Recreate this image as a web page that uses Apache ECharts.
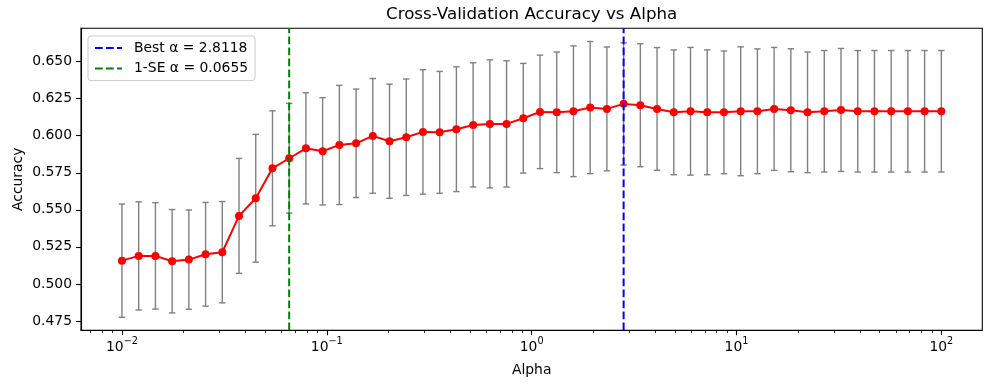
<!DOCTYPE html>
<html>
<head>
<meta charset="utf-8">
<script src="https://cdn.jsdelivr.net/npm/echarts@6/dist/echarts.min.js"></script>
<style>
  html, body { margin: 0; padding: 0; background: #ffffff; }
  #chart { width: 998px; height: 385px; }
</style>
</head>
<body>
<div id="chart"></div>
<script>
// ---- data ----
const alphas = [
  0.01, 0.012068, 0.014563, 0.017575, 0.021210, 0.025595, 0.030888, 0.037276, 0.044984, 0.054287,
  0.065513, 0.079060, 0.095410, 0.11514, 0.13895, 0.16768, 0.20236, 0.24421, 0.29471, 0.35565,
  0.42919, 0.51795, 0.62506, 0.75431, 0.91030, 1.0985, 1.3257, 1.5999, 1.9307, 2.3300,
  2.8118, 3.3932, 4.0949, 4.9417, 5.9636, 7.1969, 8.6851, 10.481, 12.649, 15.264,
  18.421, 22.230, 26.827, 32.375, 39.069, 47.149, 56.899, 68.665, 82.864, 100
];
const accMean = [
  0.5157, 0.5189, 0.5189, 0.5153, 0.5164, 0.5200, 0.5214, 0.5459, 0.5578, 0.5780,
  0.5848, 0.5915, 0.5895, 0.5938, 0.5949, 0.5999, 0.5963, 0.5990, 0.6026, 0.6023,
  0.6044, 0.6073, 0.6080, 0.6080, 0.6118, 0.6161, 0.6158, 0.6165, 0.6190, 0.6181,
  0.6215, 0.6206, 0.6181, 0.6158, 0.6165, 0.6158, 0.6158, 0.6165, 0.6165, 0.6181,
  0.6172, 0.6158, 0.6165, 0.6174, 0.6165, 0.6165, 0.6165, 0.6165, 0.6165, 0.6165
];
const accStd = [
  0.0382, 0.0365, 0.0359, 0.0349, 0.0335, 0.0350, 0.0342, 0.0388, 0.0431, 0.0388,
  0.0370, 0.0375, 0.0362, 0.0402, 0.0366, 0.0387, 0.0385, 0.0393, 0.0420, 0.0411,
  0.0421, 0.0419, 0.0432, 0.0426, 0.0370, 0.0383, 0.0407, 0.0441, 0.0446, 0.0418,
  0.0412, 0.0415, 0.0414, 0.0421, 0.0431, 0.0421, 0.0414, 0.0435, 0.0421, 0.0415,
  0.0415, 0.0407, 0.0410, 0.0415, 0.0410, 0.0410, 0.0410, 0.0410, 0.0410, 0.0410
];
const bestAlpha = 2.8118;
const seAlpha = 0.0655;
const bestLabel = 'Best α = 2.8118';
const seLabel = '1-SE α = 0.0655';
const xMajorTicks = [0.01, 0.1, 1, 10, 100];
const xMinorTicks = [
  0.007, 0.008, 0.009,
  0.02, 0.03, 0.04, 0.05, 0.06, 0.07, 0.08, 0.09,
  0.2, 0.3, 0.4, 0.5, 0.6, 0.7, 0.8, 0.9,
  2, 3, 4, 5, 6, 7, 8, 9,
  20, 30, 40, 50, 60, 70, 80, 90
];
const yTicks = [0.475, 0.500, 0.525, 0.550, 0.575, 0.600, 0.625, 0.650];
const xRange = [0.0063096, 158.49];
const yRange = [0.4687, 0.6725];
const titleText = 'Cross-Validation Accuracy vs Alpha';
const xName = 'Alpha';
const yName = 'Accuracy';

// ---- chart ----
const FONT = 'DejaVu Sans';
const lineData = alphas.map((a, i) => [a, accMean[i]]);
const errData = alphas.map((a, i) => [a, accMean[i] - accStd[i], accMean[i] + accStd[i]]);
const DASH = [7.7, 3.3];

function supLabel(v) {
  const e = Math.round(Math.log10(v));
  const s = e < 0 ? '\u2212' + (-e) : String(e);
  return '{b|10}{s|' + s + '}';
}

function vline(name, alpha, color) {
  return {
    type: 'line',
    name: name,
    xAxisIndex: 0,
    data: [[alpha, yRange[0]], [alpha, yRange[1]]],
    symbol: 'none',
    showSymbol: false,
    color: color,
    lineStyle: { color: color, width: 2, type: DASH },
    itemStyle: { color: color },
    silent: true,
    z: 4
  };
}

const chart = echarts.init(document.getElementById('chart'), null, { renderer: 'canvas' });
chart.setOption({
  animation: false,
  backgroundColor: '#ffffff',
  title: {
    text: titleText,
    left: 386,
    top: 6,
    padding: 0,
    textStyle: { fontFamily: FONT, fontSize: 16.7, fontWeight: 'normal', color: '#000' }
  },
  legend: {
    orient: 'vertical',
    left: 88,
    top: 36,
    padding: [5, 7, 5, 6],
    itemGap: 6.6,
    itemWidth: 27,
    itemHeight: 14,
    borderColor: '#cccccc',
    borderWidth: 1,
    borderRadius: 3,
    backgroundColor: 'rgba(255,255,255,0.8)',
    data: [bestLabel, seLabel],
    itemStyle: { color: 'rgba(0,0,0,0)', borderWidth: 0, opacity: 0 },
    textStyle: { fontFamily: FONT, fontSize: 13.9, color: '#000', padding: [0, 0, 0, 7] }
  },
  grid: {
    left: 81, top: 28.3, width: 901.3, height: 302,
    show: true, borderColor: '#000', borderWidth: 1.1, backgroundColor: 'transparent'
  },
  xAxis: [
    {
      type: 'log', logBase: 10, min: xRange[0], max: xRange[1],
      position: 'bottom',
      name: xName, nameLocation: 'middle', nameGap: 33, nameMoveOverlap: false,
      nameTextStyle: { fontFamily: FONT, fontSize: 13.9, color: '#000' },
      axisLine: { show: true, lineStyle: { color: '#000', width: 1.1 } },
      axisTick: { show: true, customValues: xMajorTicks, length: 4.9, lineStyle: { color: '#000', width: 1.1 } },
      axisLabel: {
        show: true, customValues: xMajorTicks, margin: 6,
        formatter: supLabel,
        rich: {
          b: { fontFamily: FONT, fontSize: 13.9, color: '#000', lineHeight: 22 },
          s: { fontFamily: FONT, fontSize: 9.7, color: '#000', lineHeight: 16, verticalAlign: 'top' }
        }
      },
      splitLine: { show: false },
      minorTick: { show: false }
    },
    {
      type: 'log', logBase: 10, min: xRange[0], max: xRange[1],
      position: 'bottom',
      axisLine: { show: false },
      axisTick: { show: true, customValues: xMinorTicks, length: 2.8, lineStyle: { color: '#000', width: 0.8 } },
      axisLabel: { show: false },
      splitLine: { show: false }
    }
  ],
  yAxis: {
    type: 'value', min: yRange[0], max: yRange[1],
    name: yName, nameLocation: 'middle', nameGap: 56, nameMoveOverlap: false,
    nameTextStyle: { fontFamily: FONT, fontSize: 13.9, color: '#000' },
    axisLine: { show: true, lineStyle: { color: '#000', width: 1.1 } },
    axisTick: { show: true, customValues: yTicks, length: 4.9, lineStyle: { color: '#000', width: 1.1 } },
    axisLabel: {
      show: true, customValues: yTicks, margin: 9,
      fontFamily: FONT, fontSize: 13.9, color: '#000',
      formatter: v => v.toFixed(3)
    },
    splitLine: { show: false }
  },
  series: [
    {
      type: 'custom',
      name: 'errorbars',
      xAxisIndex: 0,
      data: errData,
      encode: { x: 0, y: [1, 2] },
      clip: false,
      silent: true,
      renderItem: function (params, api) {
        const x = api.value(0);
        const lo = api.coord([x, api.value(1)]);
        const hi = api.coord([x, api.value(2)]);
        const cap = 3.2;
        const st = { stroke: '#808080', lineWidth: 1.4, fill: null };
        return {
          type: 'group',
          children: [
            { type: 'line', shape: { x1: lo[0], y1: lo[1], x2: hi[0], y2: hi[1] }, style: st },
            { type: 'line', shape: { x1: lo[0] - cap, y1: lo[1], x2: lo[0] + cap, y2: lo[1] }, style: st },
            { type: 'line', shape: { x1: hi[0] - cap, y1: hi[1], x2: hi[0] + cap, y2: hi[1] }, style: st }
          ]
        };
      }
    },
    {
      type: 'line',
      name: 'accuracy',
      xAxisIndex: 0,
      data: lineData,
      symbol: 'circle',
      symbolSize: 8,
      lineStyle: { color: '#ff0000', width: 2 },
      itemStyle: { color: '#ff0000' },
      z: 3
    },
    vline(bestLabel, bestAlpha, '#0000ff'),
    vline(seLabel, seAlpha, '#008000')
  ]
});
</script>
</body>
</html>
